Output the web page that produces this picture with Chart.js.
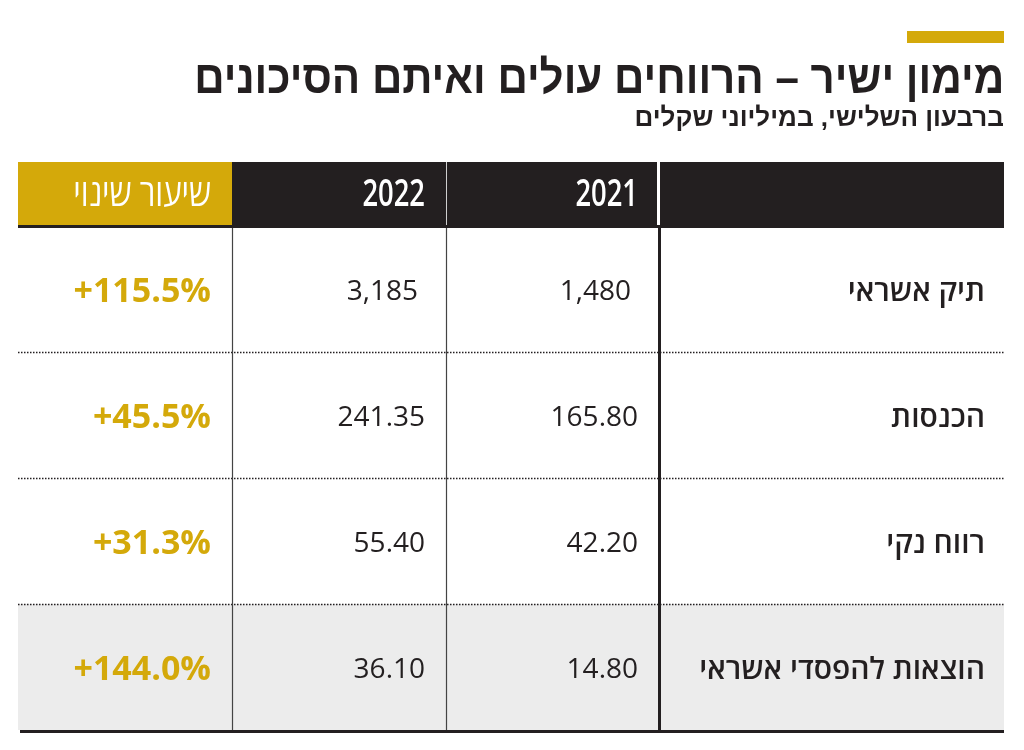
<!DOCTYPE html>
<html lang="he">
<head>
<meta charset="utf-8">
<title>מימון ישיר</title>
<script src="https://cdn.jsdelivr.net/npm/chart.js@4.4.1/dist/chart.umd.min.js"></script>
<style>
  body { margin: 0; background: #fff; width: 1024px; height: 750px; overflow: hidden; position: relative;
         font-family: "Open Sans", "Liberation Sans", "DejaVu Sans", sans-serif; color: #231f20; }
  #wrap { position: absolute; left: 0; top: 0; width: 1024px; height: 750px; }
  #accent { position: absolute; left: 907px; top: 31px; width: 97px; height: 12px; background: #d4a90a; }
  #title { position: absolute; right: 20px; top: 50px; direction: rtl; white-space: nowrap;
           font: 700 46px "Liberation Sans", sans-serif; line-height: 54px;
           transform: scaleX(0.915); transform-origin: right center; }
  #subtitle { position: absolute; right: 20px; top: 102px; direction: rtl; white-space: nowrap;
              font: 700 26px "Liberation Sans", sans-serif; line-height: 30px; }
</style>
</head>
<body>
<div id="wrap"><canvas id="tableChart"></canvas></div>
<div id="accent"></div>
<div id="title">מימון ישיר – הרווחים עולים ואיתם הסיכונים</div>
<div id="subtitle">ברבעון השלישי, במיליוני שקלים</div>
<script>
// data
const rowLabels = ['תיק אשראי', 'הכנסות', 'רווח נקי', 'הוצאות להפסדי אשראי'];
const values2021 = [1480, 165.80, 42.20, 14.80];
const values2022 = [3185, 241.35, 55.40, 36.10];
const changePct = [115.5, 45.5, 31.3, 144.0];
const columnHeaders = ['שיעור שינוי', '2022', '2021', ''];

// layout (px), columns from left to right
const colEdges = [18, 232, 446, 659, 1004];
const headerTop = 162;
const cellPad = 21;
const GOLD = '#d4a90a';
const INK = '#231f20';
const FONT = '"Open Sans", "Liberation Sans", sans-serif';

function formatValue(v) {
    return Number.isInteger(v) ? v.toLocaleString('en-US') : v.toFixed(2);
}

function formatChange(v) {
    return (v >= 0 ? '+' : '') + v.toFixed(1) + '%';
}

// right aligned text squeezed horizontally (header uses a condensed look)
function condensedText(ctx, text, xRight, y, sx) {
    ctx.save();
    ctx.translate(xRight, y);
    ctx.scale(sx, 1);
    ctx.fillText(text, 0, 0);
    ctx.restore();
}

const tablePlugin = {
    id: 'tablePlugin',
    beforeDraw(chart) {
        const {ctx, chartArea: a, scales: {y}} = chart;
        const band = (a.bottom - a.top) / chart.data.labels.length;
        const left = colEdges[0], right = colEdges[colEdges.length - 1];
        ctx.save();

        // header row
        ctx.fillStyle = GOLD;
        ctx.fillRect(left, headerTop, colEdges[1] - left, a.top - headerTop);
        ctx.fillStyle = INK;
        ctx.fillRect(colEdges[1], headerTop, right - colEdges[1], a.top - headerTop);
        ctx.fillStyle = '#cfcfcf';
        ctx.fillRect(colEdges[2], headerTop, 1, a.top - headerTop);
        ctx.fillStyle = '#ffffff';
        ctx.fillRect(colEdges[3] - 2, headerTop, 3, a.top - headerTop);

        ctx.textAlign = 'right';
        ctx.textBaseline = 'middle';
        ctx.fillStyle = '#ffffff';
        columnHeaders.forEach((h, i) => {
            if (!h) return;
            const isYear = /^\d+$/.test(h);
            ctx.font = (isYear ? '600 ' : '500 ') + '38px ' + FONT;
            condensedText(ctx, h, colEdges[i + 1] - cellPad, (headerTop + a.top) / 2 + 1, isYear ? 0.72 : 0.82);
        });

        // highlighted last row
        const last = chart.data.labels.length - 1;
        const yc = y.getPixelForValue(last);
        ctx.fillStyle = '#ececec';
        ctx.fillRect(left, yc - band / 2, right - left, band);
        ctx.restore();
    },
    afterDraw(chart) {
        const {ctx, chartArea: a, scales: {y}} = chart;
        const n = chart.data.labels.length;
        const band = (a.bottom - a.top) / n;
        const left = colEdges[0], right = colEdges[colEdges.length - 1];
        ctx.save();

        // dotted row separators
        ctx.strokeStyle = INK;
        ctx.lineWidth = 1.5;
        ctx.setLineDash([1.5, 1.5]);
        for (let i = 0; i < n - 1; i++) {
            const yy = Math.round(y.getPixelForValue(i) + band / 2) + 0.5;
            ctx.beginPath();
            ctx.moveTo(left, yy);
            ctx.lineTo(right, yy);
            ctx.stroke();
        }
        ctx.setLineDash([]);

        // vertical column lines
        ctx.strokeStyle = '#444';
        ctx.lineWidth = 1.2;
        [colEdges[1], colEdges[2]].forEach(x => {
            ctx.beginPath();
            ctx.moveTo(x + 0.5, a.top);
            ctx.lineTo(x + 0.5, a.bottom);
            ctx.stroke();
        });
        ctx.fillStyle = INK;
        ctx.fillRect(colEdges[3] - 1, a.top, 3, a.bottom - a.top);

        // thick rules under header and at bottom
        ctx.fillRect(left, a.top - 1, right - left, 3);
        ctx.fillRect(left + 2, a.bottom, right - left - 2, 3);

        // cell texts
        ctx.textAlign = 'right';
        ctx.textBaseline = 'middle';
        chart.data.labels.forEach((label, i) => {
            const yc = y.getPixelForValue(i) + 3;
            ctx.fillStyle = INK;
            ctx.font = '600 30px ' + FONT;
            ctx.fillText(label, colEdges[4] - 19, yc);
            ctx.font = '400 28px ' + FONT;
            // whole numbers sit a little left of the decimal ones
            const shift = v => Number.isInteger(v) ? 7 : 0;
            ctx.fillText(formatValue(values2021[i]), colEdges[3] - cellPad - shift(values2021[i]), yc);
            ctx.fillText(formatValue(values2022[i]), colEdges[2] - cellPad - shift(values2022[i]), yc);
            ctx.fillStyle = GOLD;
            ctx.font = '700 34px ' + FONT;
            ctx.fillText(formatChange(changePct[i]), colEdges[1] - cellPad, yc);
        });
        ctx.restore();
    }
};

new Chart(document.getElementById('tableChart'), {
    type: 'bar',
    data: {
        labels: rowLabels,
        datasets: [
            { label: '2021', data: values2021, hidden: true },
            { label: '2022', data: values2022, hidden: true },
            { label: 'שיעור שינוי', data: changePct, hidden: true }
        ]
    },
    options: {
        indexAxis: 'y',
        responsive: true,
        maintainAspectRatio: false,
        animation: false,
        events: [],
        layout: { padding: { left: 18, right: 20, top: 226, bottom: 20 } },
        plugins: {
            legend: { display: false },
            title: { display: false },
            tooltip: { enabled: false }
        },
        scales: {
            x: { display: false, min: 0, max: 1 },
            y: { display: false }
        }
    },
    plugins: [tablePlugin]
});
</script>
</body>
</html>
